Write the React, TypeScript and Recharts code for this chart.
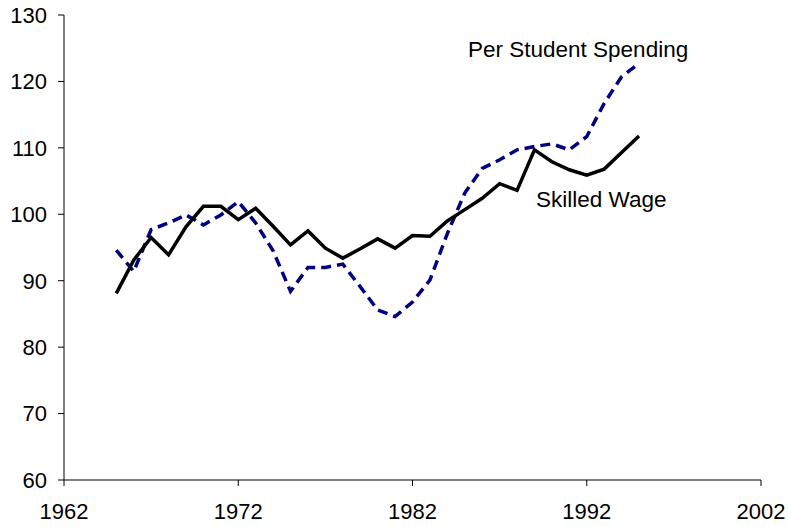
import React from "react";
import { LineChart, Line, XAxis, YAxis, Customized } from "recharts";

const years = [
  1965, 1966, 1967, 1968, 1969, 1970, 1971, 1972, 1973, 1974, 1975, 1976, 1977, 1978, 1979, 1980,
  1981, 1982, 1983, 1984, 1985, 1986, 1987, 1988, 1989, 1990, 1991, 1992, 1993, 1994, 1995,
];
const skilledWage = [
  88.1, 93.1, 96.5, 93.9, 98.1, 101.2, 101.2, 99.2, 100.9, 98.2, 95.4, 97.5, 94.9, 93.4, 94.8, 96.3,
  94.9, 96.8, 96.7, 99.0, 100.7, 102.4, 104.6, 103.6, 109.7, 107.9, 106.7, 105.9, 106.8, 109.3, 111.8,
];
const perStudentSpending = [
  94.6, 91.4, 97.7, 98.7, 99.9, 98.4, 99.9, 101.9, 98.7, 94.5, 88.4, 92.0, 92.0, 92.5, 89.1, 85.6,
  84.6, 86.8, 90.1, 97.1, 103.2, 106.9, 108.2, 109.7, 110.2, 110.6, 109.7, 111.7, 116.7, 120.7, 122.7,
];
const xTicks = [1962, 1972, 1982, 1992, 2002];
const yTicks = [60, 70, 80, 90, 100, 110, 120, 130];

const data = years.map((year, i) => ({
  year,
  wage: skilledWage[i],
  spending: perStudentSpending[i],
}));

const FONT = "Liberation Sans, Arial, sans-serif";

const Labels = () => (
  <g>
    <text x={468} y={57} fontFamily={FONT} fontSize={22.5} fill="#000">
      Per Student Spending
    </text>
    <text x={536} y={207} fontFamily={FONT} fontSize={22.5} fill="#000">
      Skilled Wage
    </text>
  </g>
);

export default function App() {
  return (
    <div style={{ position: "absolute", left: 0, top: 0, background: "#fff" }}>
      <LineChart
        width={788}
        height={527}
        data={data}
        margin={{ top: 15, right: 27, bottom: 0, left: 0 }}
      >
        <XAxis
          dataKey="year"
          type="number"
          domain={[1962, 2002]}
          ticks={xTicks}
          interval={0}
          height={47}
          tickSize={6}
          tickMargin={17}
          axisLine={{ stroke: "#000", strokeWidth: 1 }}
          tickLine={{ stroke: "#000", strokeWidth: 1 }}
          tick={{ fill: "#000", fontSize: 22, fontFamily: FONT }}
        />
        <YAxis
          type="number"
          domain={[60, 130]}
          ticks={yTicks}
          interval={0}
          width={64}
          tickSize={6}
          tickMargin={11}
          axisLine={{ stroke: "#000", strokeWidth: 1 }}
          tickLine={{ stroke: "#000", strokeWidth: 1 }}
          tick={{ fill: "#000", fontSize: 22, fontFamily: FONT }}
        />
        <Line
          type="linear"
          dataKey="spending"
          stroke="#000080"
          strokeWidth={3.5}
          strokeDasharray="10 6"
          dot={false}
          activeDot={false}
          isAnimationActive={false}
        />
        <Line
          type="linear"
          dataKey="wage"
          stroke="#000"
          strokeWidth={3.5}
          dot={false}
          activeDot={false}
          isAnimationActive={false}
        />
        <Customized component={Labels} />
      </LineChart>
    </div>
  );
}
